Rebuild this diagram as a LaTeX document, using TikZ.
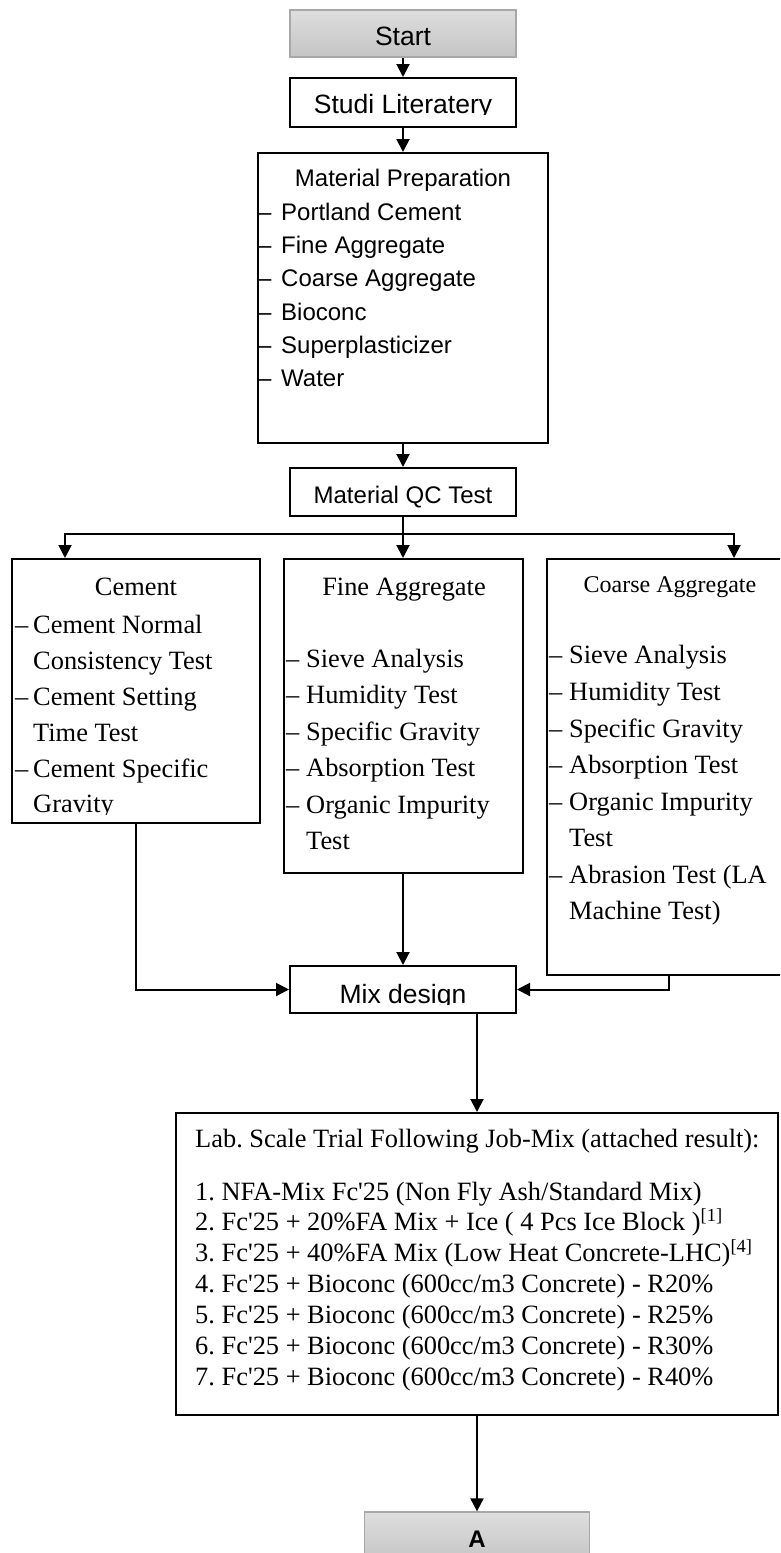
\documentclass[tikz,border=0pt]{standalone}
\usepackage{fontspec}
\setmainfont{Liberation Serif}[Ligatures=TeXOff]
\newfontfamily\arialf{Liberation Sans}
\usetikzlibrary{arrows.meta}
\definecolor{boxgrayA}{RGB}{222,222,222}
\definecolor{boxgrayB}{RGB}{196,196,196}
\definecolor{boxedge}{RGB}{168,168,168}
\tikzset{
  box/.style={draw=black, line width=2pt, rectangle, inner sep=0pt},
  graybox/.style={draw=boxedge, line width=1.3pt, rectangle, inner sep=0pt, top color=boxgrayA, bottom color=boxgrayB},
  conn/.style={line width=2pt},
  arr/.style={line width=2pt, -{Triangle[length=13pt,width=13pt]}},
  sansL/.style={font=\arialf\fontsize{26.5}{30}\selectfont, inner sep=0pt},
  sansS/.style={font=\arialf\fontsize{24}{28}\selectfont, inner sep=0pt},
  serif/.style={font=\fontsize{26.4}{30}\selectfont, inner sep=0pt},
  serifS/.style={font=\fontsize{24}{28}\selectfont, inner sep=0pt},
}
\begin{document}
\frenchspacing
\begin{tikzpicture}[x=1pt,y=-1pt]
\useasboundingbox (0,0) rectangle (780,1553);
\clip (0,0) rectangle (780,1553);
\fill[white] (0,0) rectangle (780,1553);

% boxes
\node[graybox, minimum width=226pt, minimum height=47pt] (start) at (403,33.5) {};
\node[box, minimum width=226pt, minimum height=49pt] (studi) at (403,102.5) {};
\node[box, minimum width=290pt, minimum height=290pt] (prep) at (403,298) {};
\node[box, minimum width=226pt, minimum height=48pt] (qc) at (403,492) {};
\node[box, minimum width=248pt, minimum height=264pt] (cement) at (136,691) {};
\node[box, minimum width=239pt, minimum height=314pt] (fine) at (403.5,716) {};
\node[box, minimum width=244pt, minimum height=416pt] (coarse) at (669,767) {};
\node[box, minimum width=226pt, minimum height=47pt] (mix) at (403,989.5) {};
\node[box, minimum width=602pt, minimum height=302pt] (lab) at (477,1264) {};
\node[graybox, minimum width=225pt, minimum height=51pt] (A) at (477,1537.5) {};

% texts
\node[sansL, anchor=base] (tstart) at (403,45) {Start};
\begin{scope}
  \clip (0,0) rectangle (780,114.5);
  \node[sansL, anchor=base] (tstudi) at (403,113) {Studi Literatery};
\end{scope}

\node[sansS, anchor=base] (tprep) at (403,186) {Material Preparation};
\foreach \t/\yy [count=\i] in {Portland Cement/220, Fine Aggregate/253.3, Coarse Aggregate/286.7, Bioconc/320, Superplasticizer/353.3, Water/386.7} {
  \node[sansS, anchor=base west] (pd\i) at (258,\yy) {–};
  \node[sansS, anchor=base west] (pi\i) at (281,\yy) {\t};
}

\node[sansS, anchor=base] (tqc) at (403,503) {Material QC Test};

% cement
\node[serif, anchor=base] (tcem) at (136,595) {Cement};
\foreach \yy [count=\i] in {633,705,777} {
  \node[serif, anchor=base west] (cd\i) at (15,\yy) {–};
}
\node[serif, anchor=base west] (ci1) at (33,633) {Cement Normal};
\node[serif, anchor=base west] (ci2) at (33,669) {Consistency Test};
\node[serif, anchor=base west] (ci3) at (33,705) {Cement Setting};
\node[serif, anchor=base west] (ci4) at (33,741) {Time Test};
\node[serif, anchor=base west] (ci5) at (33,777) {Cement Specific};
\begin{scope}
  \clip (0,0) rectangle (780,814);
  \node[serif, anchor=base west] (ci6) at (33,812.5) {Gravity};
\end{scope}

% fine aggregate
\node[serif, anchor=base] (tfine) at (404,595) {Fine Aggregate};
\foreach \t/\yy [count=\i] in {Sieve Analysis/667, Humidity Test/703.5, Specific Gravity/740, Absorption Test/776.5, Organic Impurity/813} {
  \node[serif, anchor=base west] (fd\i) at (286,\yy) {–};
  \node[serif, anchor=base west] (fi\i) at (306,\yy) {\t};
}
\node[serif, anchor=base west] (fi6) at (306,849.5) {Test};

% coarse aggregate
\node[serifS, anchor=base] (tcoarse) at (670,592) {Coarse Aggregate};
\foreach \t/\yy [count=\i] in {Sieve Analysis/663, Humidity Test/700, Specific Gravity/737, Absorption Test/773, Organic Impurity/810, Abrasion Test (LA/883} {
  \node[serif, anchor=base west] (kd\i) at (549,\yy) {–};
  \node[serif, anchor=base west] (ki\i) at (569,\yy) {\t};
}
\node[serif, anchor=base west] (ki7) at (569,846.5) {Test};
\node[serif, anchor=base west] (ki8) at (569,919) {Machine Test)};

% mix design
\begin{scope}
  \clip (0,0) rectangle (780,1004.5);
  \node[sansL, anchor=base] (tmix) at (403,1003) {Mix design};
\end{scope}

% lab
\node[serif, anchor=base west] (tlab) at (195,1147) {Lab. Scale Trial Following Job-Mix (attached result):};
\node[serif, anchor=base west] (l1) at (195,1200) {1. NFA-Mix Fc'25 (Non Fly Ash/Standard Mix)};
\node[serif, anchor=base west] (l2) at (195,1230.8) {2. Fc'25 + 20\%FA Mix + Ice ( 4 Pcs Ice Block )\textsuperscript{[1]}};
\node[serif, anchor=base west] (l3) at (195,1261.7) {3. Fc'25 + 40\%FA Mix (Low Heat Concrete-LHC)\textsuperscript{[4]}};
\node[serif, anchor=base west] (l4) at (195,1292.5) {4. Fc'25 + Bioconc (600cc/m3 Concrete) - R20\%};
\node[serif, anchor=base west] (l5) at (195,1323.3) {5. Fc'25 + Bioconc (600cc/m3 Concrete) - R25\%};
\node[serif, anchor=base west] (l6) at (195,1354.2) {6. Fc'25 + Bioconc (600cc/m3 Concrete) - R30\%};
\node[serif, anchor=base west] (l7) at (195,1385) {7. Fc'25 + Bioconc (600cc/m3 Concrete) - R40\%};

\node[font=\arialf\bfseries\fontsize{24}{28}\selectfont, inner sep=0pt, anchor=base] (tA) at (477,1547) {A};

% connectors
\coordinate (split) at (403,534);
\coordinate (cin) at (65,558);
\coordinate (kin) at (734,558);
\draw[arr] (start.south) -- (studi.north);
\draw[arr] (studi.south) -- (prep.north);
\draw[arr] (prep.south) -- (qc.north);
\draw[conn] (qc.south) -- (split);
\draw[arr] (split) -| (cin);
\draw[arr] (split) -| (kin);
\draw[arr] (split) -- (split |- fine.north);
\draw[arr] (cement.south) |- (mix.west);
\draw[arr] (mix.north |- fine.south) -- (mix.north);
\draw[arr] (coarse.south) |- (mix.east);
\draw[arr] (mix.south -| lab.north) -- (lab.north);
\draw[arr] (lab.south) -- (A.north);
\end{tikzpicture}
\end{document}
